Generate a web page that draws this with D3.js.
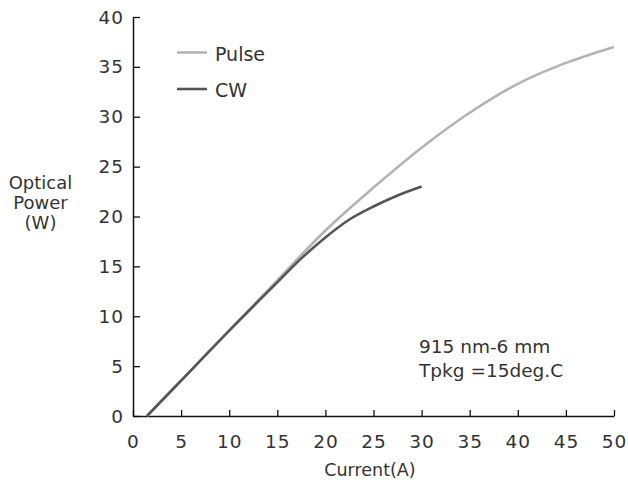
<!DOCTYPE html>
<html>
<head>
<meta charset="utf-8">
<script src="https://cdn.jsdelivr.net/npm/d3@7"></script>
<style>
  body { margin: 0; background: #fff; }
  text { font-family: "DejaVu Sans", sans-serif; fill: #333; }
</style>
</head>
<body>
<div id="chart"></div>
<script>
// data
var pulseX = [1.45, 5, 10, 15, 20, 25, 30, 35, 40, 45, 50];
var pulseY = [0, 3.55, 8.55, 13.6, 18.6, 22.9, 26.9, 30.4, 33.3, 35.4, 37.0];
var cwX = [1.45, 5, 10, 15, 17.5, 20, 22.5, 25, 27.5, 30];
var cwY = [0, 3.55, 8.55, 13.4, 15.8, 17.9, 19.7, 21.0, 22.1, 23.0];
var xTicks = [0, 5, 10, 15, 20, 25, 30, 35, 40, 45, 50];
var yTicks = [0, 5, 10, 15, 20, 25, 30, 35, 40];
var seriesNames = ['Pulse', 'CW'];
var seriesColors = ['#b3b3b3', '#555555'];

var width = 628, height = 483;
var plotLeft = 133, plotRight = 614, plotTop = 17, plotBottom = 416;

var svg = d3.select('#chart').append('svg')
    .attr('width', width)
    .attr('height', height);

var x = d3.scaleLinear().domain([0, 50]).range([plotLeft, plotRight]);
var y = d3.scaleLinear().domain([0, 40]).range([plotBottom, plotTop]);

// axes, ticks pointing inward
var xAxis = svg.append('g')
    .attr('transform', 'translate(0,' + plotBottom + ')')
    .call(d3.axisTop(x).tickValues(xTicks).tickSize(6).tickSizeOuter(0).tickFormat(''));
var yAxis = svg.append('g')
    .attr('transform', 'translate(' + plotLeft + ',0)')
    .call(d3.axisRight(y).tickValues(yTicks).tickSize(7).tickSizeOuter(0).tickFormat(''));

[xAxis, yAxis].forEach(function(a) {
    a.select('.domain').attr('stroke', '#111').attr('stroke-width', 1.5);
    a.selectAll('.tick line').attr('stroke', '#111').attr('stroke-width', 1.3);
});

// tick labels
svg.selectAll('.xlab').data(xTicks).enter().append('text')
    .attr('x', function(d) { return x(d) + 0.5; })
    .attr('y', 448)
    .attr('text-anchor', 'middle')
    .style('font-size', '18.5px')
    .style('letter-spacing', '1px')
    .text(function(d) { return d; });

svg.selectAll('.ylab').data(yTicks).enter().append('text')
    .attr('x', 124)
    .attr('y', function(d) { return y(d) + 6.5; })
    .attr('text-anchor', 'end')
    .style('font-size', '18.5px')
    .style('letter-spacing', '1px')
    .text(function(d) { return d; });

// axis titles
svg.append('text')
    .attr('x', 370).attr('y', 476)
    .attr('text-anchor', 'middle')
    .style('font-size', '17.5px')
    .text('Current(A)');

var ylabel = ['Optical', 'Power', '(W)'];
svg.selectAll('.ytitle').data(ylabel).enter().append('text')
    .attr('x', 40.5)
    .attr('y', function(d, i) { return 189 + i * 20; })
    .attr('text-anchor', 'middle')
    .style('font-size', '18px')
    .text(function(d) { return d; });

// curves
var line = d3.line()
    .x(function(d) { return x(d[0]); })
    .y(function(d) { return y(d[1]); })
    .curve(d3.curveCatmullRom.alpha(0.5));

var series = [d3.zip(pulseX, pulseY), d3.zip(cwX, cwY)];
series.forEach(function(s, i) {
    svg.append('path')
        .datum(s)
        .attr('fill', 'none')
        .attr('stroke', seriesColors[i])
        .attr('stroke-width', 2.6)
        .attr('d', line);
});

// legend
seriesNames.forEach(function(n, i) {
    var ly = 52.5 + i * 36.5;
    svg.append('line')
        .attr('x1', 177).attr('x2', 207)
        .attr('y1', ly).attr('y2', ly)
        .attr('stroke', seriesColors[i])
        .attr('stroke-width', 2.6);
    svg.append('text')
        .attr('x', 215).attr('y', ly + 8)
        .style('font-size', '19px')
        .text(n);
});

// annotation
svg.append('text').attr('x', 419).attr('y', 353)
    .style('font-size', '18.5px').text('915 nm-6 mm');
svg.append('text').attr('x', 419).attr('y', 377)
    .style('font-size', '18.5px').text('Tpkg =15deg.C');
</script>
</body>
</html>
